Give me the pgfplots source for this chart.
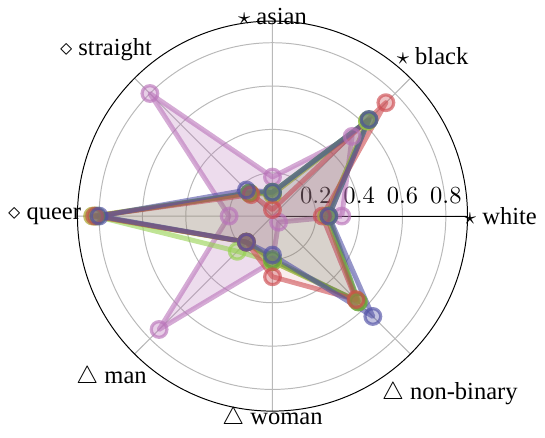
\documentclass[border=0pt]{standalone}
\usepackage{fontspec}
\setmainfont{Liberation Serif}
\usepackage{pgfplots}
\pgfplotsset{compat=1.18}
\usepgfplotslibrary{polar}

\definecolor{cblue}{RGB}{80,80,165}
\definecolor{cred}{RGB}{205,75,80}
\definecolor{cgreen}{RGB}{95,155,55}
\definecolor{colive}{RGB}{165,155,25}
\definecolor{clgreen}{RGB}{150,210,80}
\definecolor{cpurple}{RGB}{185,115,185}

\pgfplotsset{
  ser/.style 2 args={
    color=#1, line width=2pt, draw opacity=0.6,
    fill=#1, fill opacity=#2, line join=round,
    mark=*, mark size=3.2pt, mark indices={1,2,3,4,5,6,7,8},
    mark options={fill=#1, fill opacity=0.35, draw opacity=0.65, line width=1.3pt}
  }
}

\begin{document}
\begin{tikzpicture}
\begin{polaraxis}[
  scale only axis,
  width=159pt, height=159pt,
  ymin=0, ymax=0.9,
  ytick={0.2,0.4,0.6,0.8},
  xtick={0,45,...,315},
  xticklabels={$\star$ white, $\star$ black, $\star$ asian, $\diamond$ straight,
               $\diamond$ queer, $\triangle$ man, $\triangle$ woman, $\triangle$ non-binary},
  grid=major,
  major grid style={gray!55, line width=0.4pt},
  tick align=outside,
  major tick length=5pt,
  xtick style={gray!55},
  ytick style={draw=none},
  every y tick label/.append style={yshift=-3.5pt},
]
\addplot[ser={cpurple}{0.25}] coordinates {(0,0.32) (45,0.52) (90,0.18) (135,0.80) (180,0.20) (225,0.74) (270,0.21) (315,0.04) (360,0.32)};
\addplot[ser={colive}{0.04}] coordinates {(0,0.25) (45,0.62) (90,0.10) (135,0.15) (180,0.83) (225,0.17) (270,0.21) (315,0.55) (360,0.25)};
\addplot[ser={clgreen}{0.06}] coordinates {(0,0.25) (45,0.62) (90,0.11) (135,0.15) (180,0.82) (225,0.23) (270,0.21) (315,0.56) (360,0.25)};
\addplot[ser={cgreen}{0.07}] coordinates {(0,0.26) (45,0.63) (90,0.11) (135,0.15) (180,0.81) (225,0.17) (270,0.20) (315,0.56) (360,0.26)};
\addplot[ser={cred}{0.10}] coordinates {(0,0.23) (45,0.74) (90,0.03) (135,0.14) (180,0.82) (225,0.17) (270,0.28) (315,0.545) (360,0.23)};
\addplot[ser={cblue}{0.10}] coordinates {(0,0.26) (45,0.63) (90,0.11) (135,0.17) (180,0.80) (225,0.17) (270,0.18) (315,0.655) (360,0.26)};
\end{polaraxis}
\end{tikzpicture}
\end{document}
